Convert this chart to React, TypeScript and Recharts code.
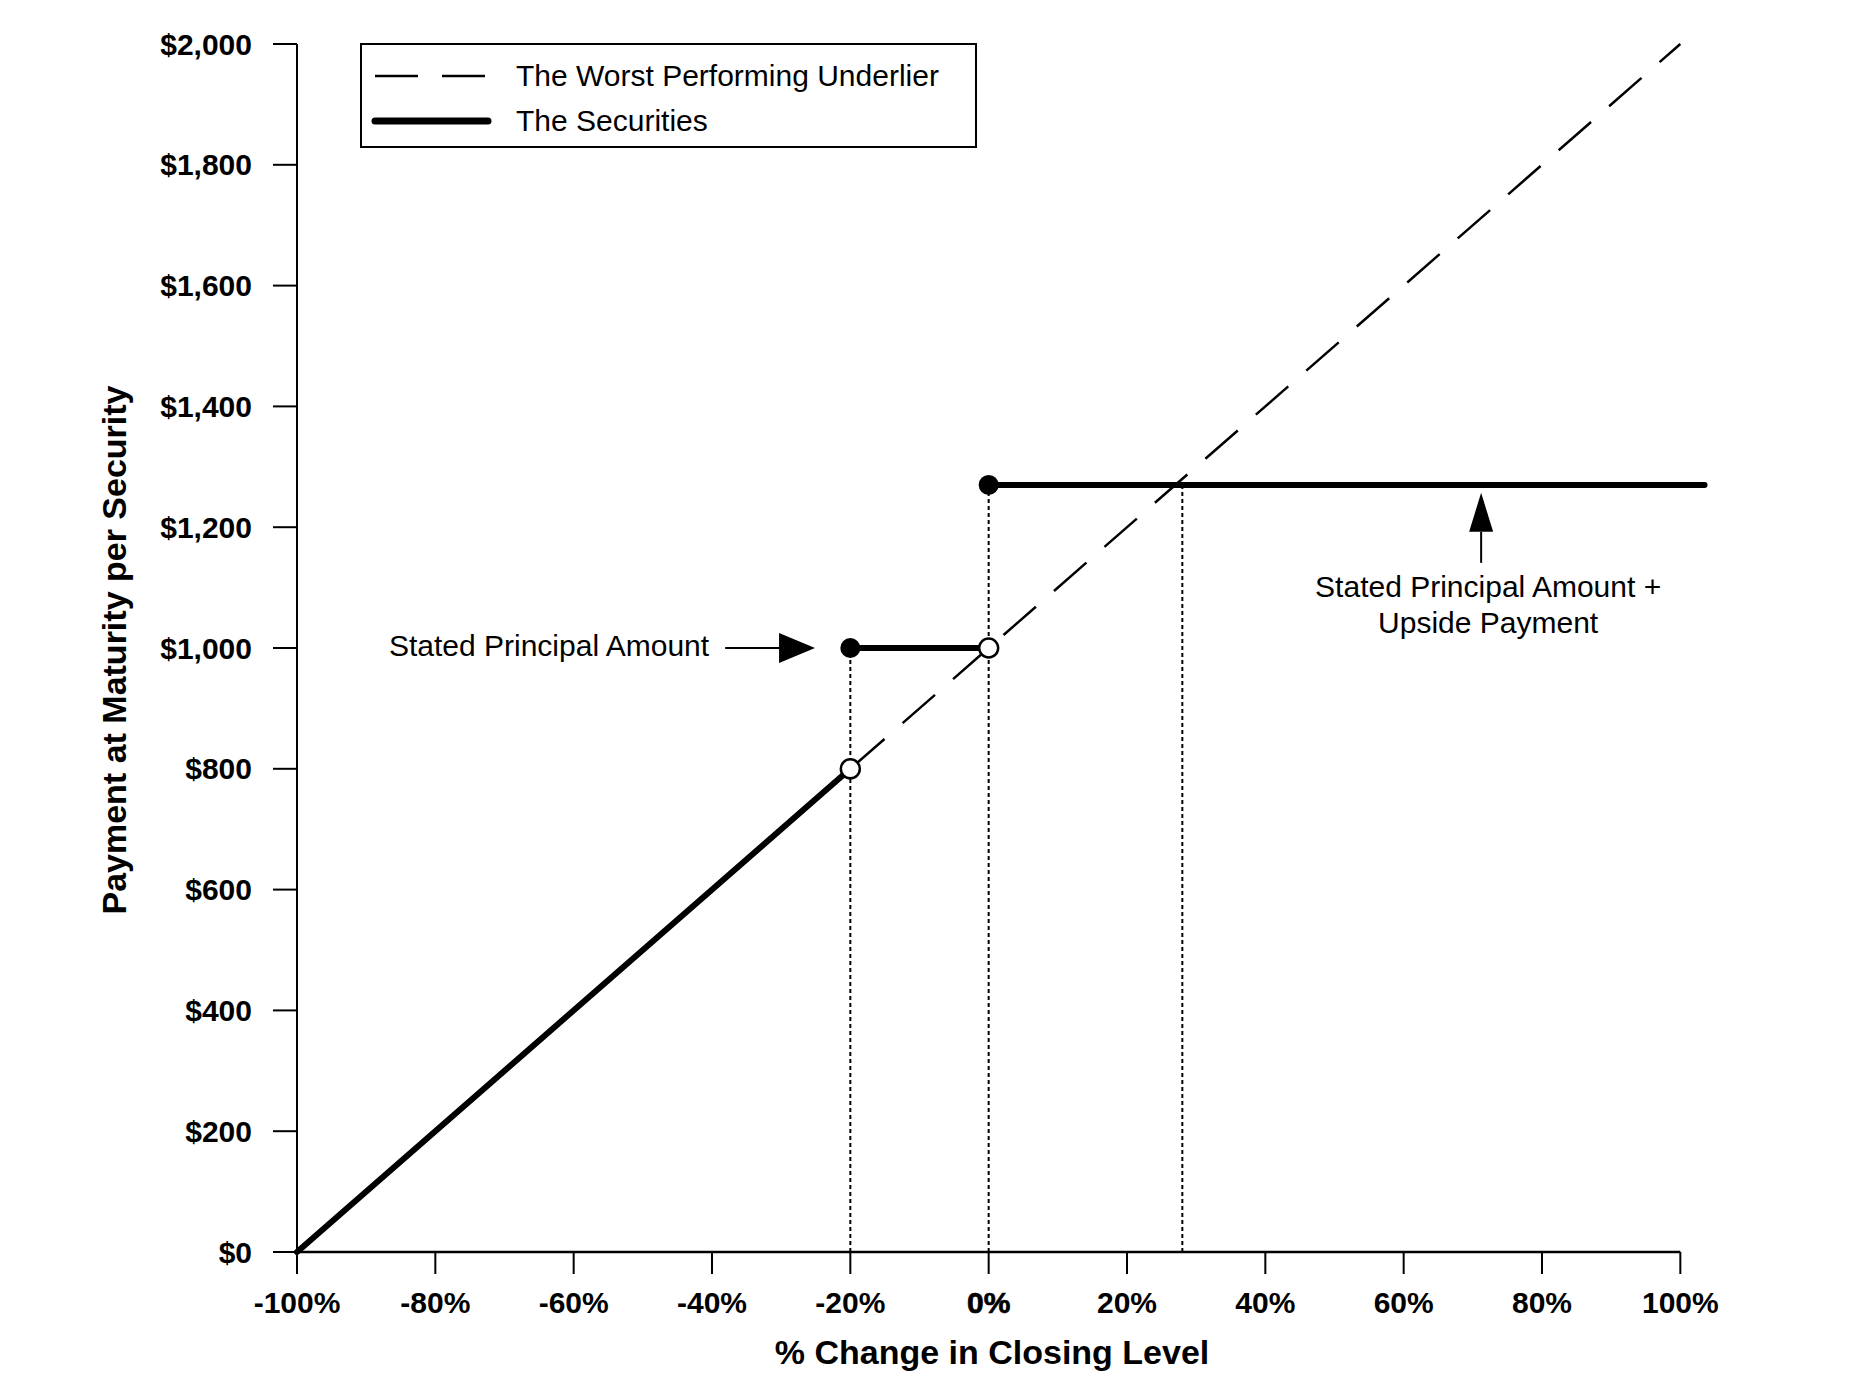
import React from "react";
import {
  ComposedChart, Line, Scatter, XAxis, YAxis, ReferenceLine, Legend
} from "recharts";

// % change in closing level vs payment at maturity
const underlierX = [-100, 100];
const underlierY = [0, 2000];

// securities payoff, null = break in the line
const securitiesX = [-100, -20, -20, -20, 0, 0, 0, 103.5];
const securitiesY: (number | null)[] = [0, 800, null, 1000, 1000, null, 1270, 1270];

const filledX = [-20, 0];
const filledY = [1000, 1270];
const openX = [-20, 0];
const openY = [800, 1000];

// dotted drop lines
const dropX = [-20, 0, 28];
const dropTop = [1000, 1270, 1270];

const xTicks = [-100, -80, -60, -40, -20, 0, 20, 40, 60, 80, 100];
const yTicks = [0, 200, 400, 600, 800, 1000, 1200, 1400, 1600, 1800, 2000];

const NAME_UNDERLIER = "The Worst Performing Underlier";
const NAME_SECURITIES = "The Securities";
const legendOrder = [NAME_UNDERLIER, NAME_SECURITIES];

const FONT = "'Liberation Sans', Arial, Helvetica, sans-serif";

const underlierData = underlierX.map((x, i) => ({ x, y: underlierY[i] }));
const securitiesData = securitiesX.map((x, i) => ({ x, y: securitiesY[i] }));
const filledData = filledX.map((x, i) => ({ x, y: filledY[i] }));
const openData = openX.map((x, i) => ({ x, y: openY[i] }));

const legendStyle: Record<string, { dash?: string; width: number }> = {
  [NAME_UNDERLIER]: { dash: "43 24", width: 2.5 },
  [NAME_SECURITIES]: { width: 7 }
};

function renderLegend(props: any) {
  const items = (props.payload || [])
    .filter((p: any) => legendStyle[p.value])
    .sort((a: any, b: any) => legendOrder.indexOf(a.value) - legendOrder.indexOf(b.value));
  return (
    <div
      style={{
        boxSizing: "border-box",
        width: 617,
        height: 105,
        border: "2px solid #000",
        background: "#fff",
        fontFamily: FONT,
        fontSize: 30,
        color: "#000",
        paddingTop: 8
      }}
    >
      {items.map((p: any) => {
        const s = legendStyle[p.value];
        return (
          <div key={p.value} style={{ display: "flex", alignItems: "center", height: 45 }}>
            <svg width={148} height={20} style={{ marginLeft: 6 }}>
              <line
                x1={7} y1={10} x2={120} y2={10}
                stroke="#000" strokeWidth={s.width}
                strokeDasharray={s.dash}
                strokeLinecap={s.dash ? "butt" : "round"}
              />
            </svg>
            <span>{p.value}</span>
          </div>
        );
      })}
    </div>
  );
}

function XTick({ x, y, payload }: any) {
  const zero = payload.value === 0;
  return (
    <text
      x={x} y={y} dy="0.71em" textAnchor="middle"
      fontFamily={FONT} fontSize={30} fontWeight="bold" fill="#000"
      stroke={zero ? "#000" : "none"} strokeWidth={zero ? 0.7 : 0}
    >
      {payload.value + "%"}
    </text>
  );
}

function LeftArrow(props: any) {
  const { x1, y1, x2, y2 } = props;
  const head = 36;
  return (
    <g>
      <line x1={x1} y1={y1} x2={x2 - head} y2={y2} stroke="#000" strokeWidth={2} />
      <polygon points={`${x2},${y2} ${x2 - head},${y2 - 15} ${x2 - head},${y2 + 15}`} fill="#000" />
      <text
        x={x1 - 16} y={y1 - 3} textAnchor="end" dominantBaseline="central"
        fontFamily={FONT} fontSize={30} fill="#000"
      >
        Stated Principal Amount
      </text>
    </g>
  );
}

function UpArrow(props: any) {
  const { x1, y1, x2, y2 } = props;
  const head = 39;
  return (
    <g>
      <line x1={x1} y1={y1} x2={x2} y2={y2 + head} stroke="#000" strokeWidth={2} />
      <polygon points={`${x2},${y2} ${x2 - 12},${y2 + head} ${x2 + 12},${y2 + head}`} fill="#000" />
      <text textAnchor="middle" fontFamily={FONT} fontSize={30} fill="#000">
        <tspan x={x1 + 7} y={y1 + 34}>Stated Principal Amount +</tspan>
        <tspan x={x1 + 7} y={y1 + 70}>Upside Payment</tspan>
      </text>
    </g>
  );
}

const filledDot = (p: any) => <circle cx={p.cx} cy={p.cy} r={10} fill="#000" />;
const openDot = (p: any) => (
  <circle cx={p.cx} cy={p.cy} r={9.5} fill="#fff" stroke="#000" strokeWidth={2.5} />
);

export default function App() {
  return (
    <div style={{ position: "absolute", left: 0, top: 0, background: "#fff" }}>
      <ComposedChart
        width={1850}
        height={1396}
        margin={{ top: 44, right: 142, bottom: 84, left: 177 }}
      >
        <XAxis
          type="number" dataKey="x" domain={[-100, 104]} ticks={xTicks}
          axisLine={false} tickSize={22} tickMargin={18}
          tickLine={{ stroke: "#000", strokeWidth: 2 }}
          tick={<XTick />} height={60} interval={0}
        />
        <YAxis
          type="number" dataKey="y" domain={[0, 2000]} ticks={yTicks}
          width={120} tickSize={24} tickMargin={21} interval={0}
          axisLine={{ stroke: "#000", strokeWidth: 2 }}
          tickLine={{ stroke: "#000", strokeWidth: 2 }}
          tick={{ fontFamily: FONT, fontSize: 30, fontWeight: "bold", fill: "#000" }}
          tickFormatter={(v: number) => "$" + v.toLocaleString("en-US")}
        />

        {dropX.map((x, i) => (
          <ReferenceLine
            key={"drop" + i}
            segment={[{ x, y: 0 }, { x, y: dropTop[i] }]}
            stroke="#000" strokeWidth={2} strokeDasharray="4 3"
          />
        ))}
        <ReferenceLine
          segment={[{ x: -100, y: 0 }, { x: 100, y: 0 }]}
          stroke="#000" strokeWidth={2.5}
        />

        <Line
          data={underlierData} dataKey="y" name={NAME_UNDERLIER}
          stroke="#000" strokeWidth={2.5} strokeDasharray="43 24"
          dot={false} activeDot={false} isAnimationActive={false}
        />
        <Line
          data={securitiesData} dataKey="y" name={NAME_SECURITIES}
          stroke="#000" strokeWidth={6} strokeLinecap="round"
          dot={false} activeDot={false} connectNulls={false} isAnimationActive={false}
        />
        <Scatter data={filledData} dataKey="y" shape={filledDot} legendType="none" isAnimationActive={false} />
        <Scatter data={openData} dataKey="y" shape={openDot} legendType="none" isAnimationActive={false} />

        <ReferenceLine segment={[{ x: -38.1, y: 1000 }, { x: -25.1, y: 1000 }]} shape={LeftArrow} />
        <ReferenceLine segment={[{ x: 71.2, y: 1141 }, { x: 71.2, y: 1257 }]} shape={UpArrow} />

        <Legend
          layout="vertical" align="center" verticalAlign="middle"
          content={renderLegend}
          wrapperStyle={{ position: "absolute", left: 360, top: 43, width: 617, height: 105 }}
        />

        <text
          x={992} y={1352} textAnchor="middle" dominantBaseline="central"
          fontFamily={FONT} fontSize={34} fontWeight="bold" fill="#000"
        >
          % Change in Closing Level
        </text>
        <text
          x={114} y={650} textAnchor="middle" dominantBaseline="central"
          transform="rotate(-90, 114, 650)"
          fontFamily={FONT} fontSize={34} fontWeight="bold" fill="#000"
        >
          Payment at Maturity per Security
        </text>
      </ComposedChart>
    </div>
  );
}
